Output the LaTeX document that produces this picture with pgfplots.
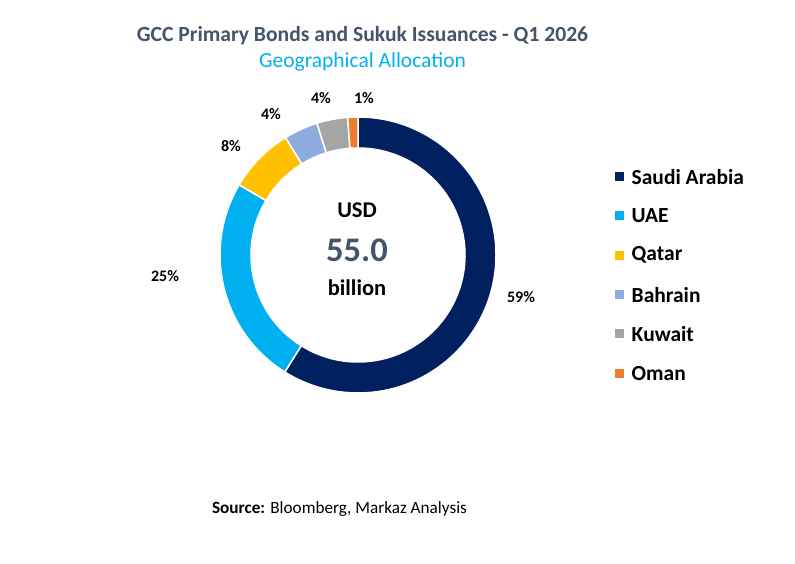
\documentclass[border=0pt]{standalone}
\usepackage{pgfplots}
\usepackage{pgfplotstable}
\pgfplotsset{compat=1.18}
\usepackage{fontspec}
\setmainfont{Carlito}
\definecolor{saudi}{HTML}{002060}
\definecolor{uae}{HTML}{00B0F0}
\definecolor{qatar}{HTML}{FFC000}
\definecolor{bahrain}{HTML}{8FAADC}
\definecolor{kuwait}{HTML}{A5A5A5}
\definecolor{oman}{HTML}{ED7D31}
\definecolor{titlec}{HTML}{44546A}
\definecolor{subc}{HTML}{00B0F0}
% share of total issuance (%), colour, label position (pixels from top-left)
\pgfplotstableread[col sep=comma]{
name,pct,col,lx,ly
Saudi Arabia,58.9,saudi,521,297
UAE,24.6,uae,165,276
Qatar,7.7,qatar,231,145.7
Bahrain,4.0,bahrain,271,114.3
Kuwait,3.6,kuwait,321,98.3
Oman,1.2,oman,364,97.7
}\datatable
\pgfmathsetmacro\curang{90}
\pgfplotsforeachungrouped \i in {0,...,5}{%
  \pgfplotstablegetelem{\i}{pct}\of\datatable\let\p\pgfplotsretval
  \pgfmathsetmacro\endang{\curang-3.6*\p}%
  \expandafter\xdef\csname sa\i\endcsname{\curang}%
  \expandafter\xdef\csname ea\i\endcsname{\endang}%
  \global\let\curang\endang
  \pgfmathtruncatemacro\lab{round(\p)}%
  \expandafter\xdef\csname lab\i\endcsname{\lab}%
  \pgfplotstablegetelem{\i}{col}\of\datatable
  \expandafter\xdef\csname col\i\endcsname{\pgfplotsretval}%
  \pgfplotstablegetelem{\i}{name}\of\datatable
  \expandafter\xdef\csname name\i\endcsname{\pgfplotsretval}%
  \pgfplotstablegetelem{\i}{lx}\of\datatable
  \expandafter\xdef\csname lx\i\endcsname{\pgfplotsretval}%
  \pgfplotstablegetelem{\i}{ly}\of\datatable
  \pgfmathsetmacro\tmp{564-\pgfplotsretval}%
  \expandafter\xdef\csname ly\i\endcsname{\tmp}%
  \pgfmathsetmacro\tmp{564-(176.7+39.3*\i)}%
  \expandafter\xdef\csname gy\i\endcsname{\tmp}%
}
\begin{document}
\begin{tikzpicture}
\begin{axis}[
  hide axis, x=1pt, y=1pt, xmin=0, xmax=795, ymin=0, ymax=564,
  clip=false, scale only axis]
\path (axis cs:0,0) rectangle (axis cs:795,564);
\pgfplotsinvokeforeach{0,...,5}{
  \filldraw[fill=\csname col#1\endcsname, draw=white, line width=1.5pt]
    ([shift={(\csname sa#1\endcsname:138pt)}]axis cs:358,309)
    arc[start angle=\csname sa#1\endcsname, end angle=\csname ea#1\endcsname, radius=138pt]
    -- ([shift={(\csname ea#1\endcsname:107pt)}]axis cs:358,309)
    arc[start angle=\csname ea#1\endcsname, end angle=\csname sa#1\endcsname, radius=107pt]
    -- cycle;
  \node[font=\bfseries\fontsize{16}{19}\selectfont, inner sep=0pt]
    at (axis cs:\csname lx#1\endcsname,\csname ly#1\endcsname) {\csname lab#1\endcsname\%};
  \fill[\csname col#1\endcsname] ([shift={(-4.5pt,-4.5pt)}]axis cs:619.5,\csname gy#1\endcsname) rectangle ++(9pt,9pt);
  \node[font=\bfseries\fontsize{21.5}{25}\selectfont, anchor=west, inner sep=0pt]
    at (axis cs:631.5,\csname gy#1\endcsname) {\csname name#1\endcsname};
}
\node[font=\bfseries\fontsize{22.5}{26}\selectfont, inner sep=0pt] at (axis cs:357,353.3) {USD};
\node[font=\bfseries\fontsize{34.5}{40}\selectfont, text=titlec, inner sep=0pt] at (axis cs:357,314) {55.0};
\node[font=\bfseries\fontsize{22.5}{26}\selectfont, inner sep=0pt] at (axis cs:357,276) {billion};
\node[font=\bfseries\fontsize{21.6}{25}\selectfont, text=titlec, inner sep=0pt] at (axis cs:362.5,528.3) {GCC Primary Bonds and Sukuk Issuances - Q1 2026};
\node[font=\fontsize{21.5}{25}\selectfont, text=subc, inner sep=0pt] at (axis cs:362.5,502.3) {Geographical Allocation};
\node[font=\fontsize{17.2}{20}\selectfont, inner sep=0pt] at (axis cs:339.5,54.7) {\textbf{Source:} Bloomberg, Markaz Analysis};
\end{axis}
\end{tikzpicture}
\end{document}
